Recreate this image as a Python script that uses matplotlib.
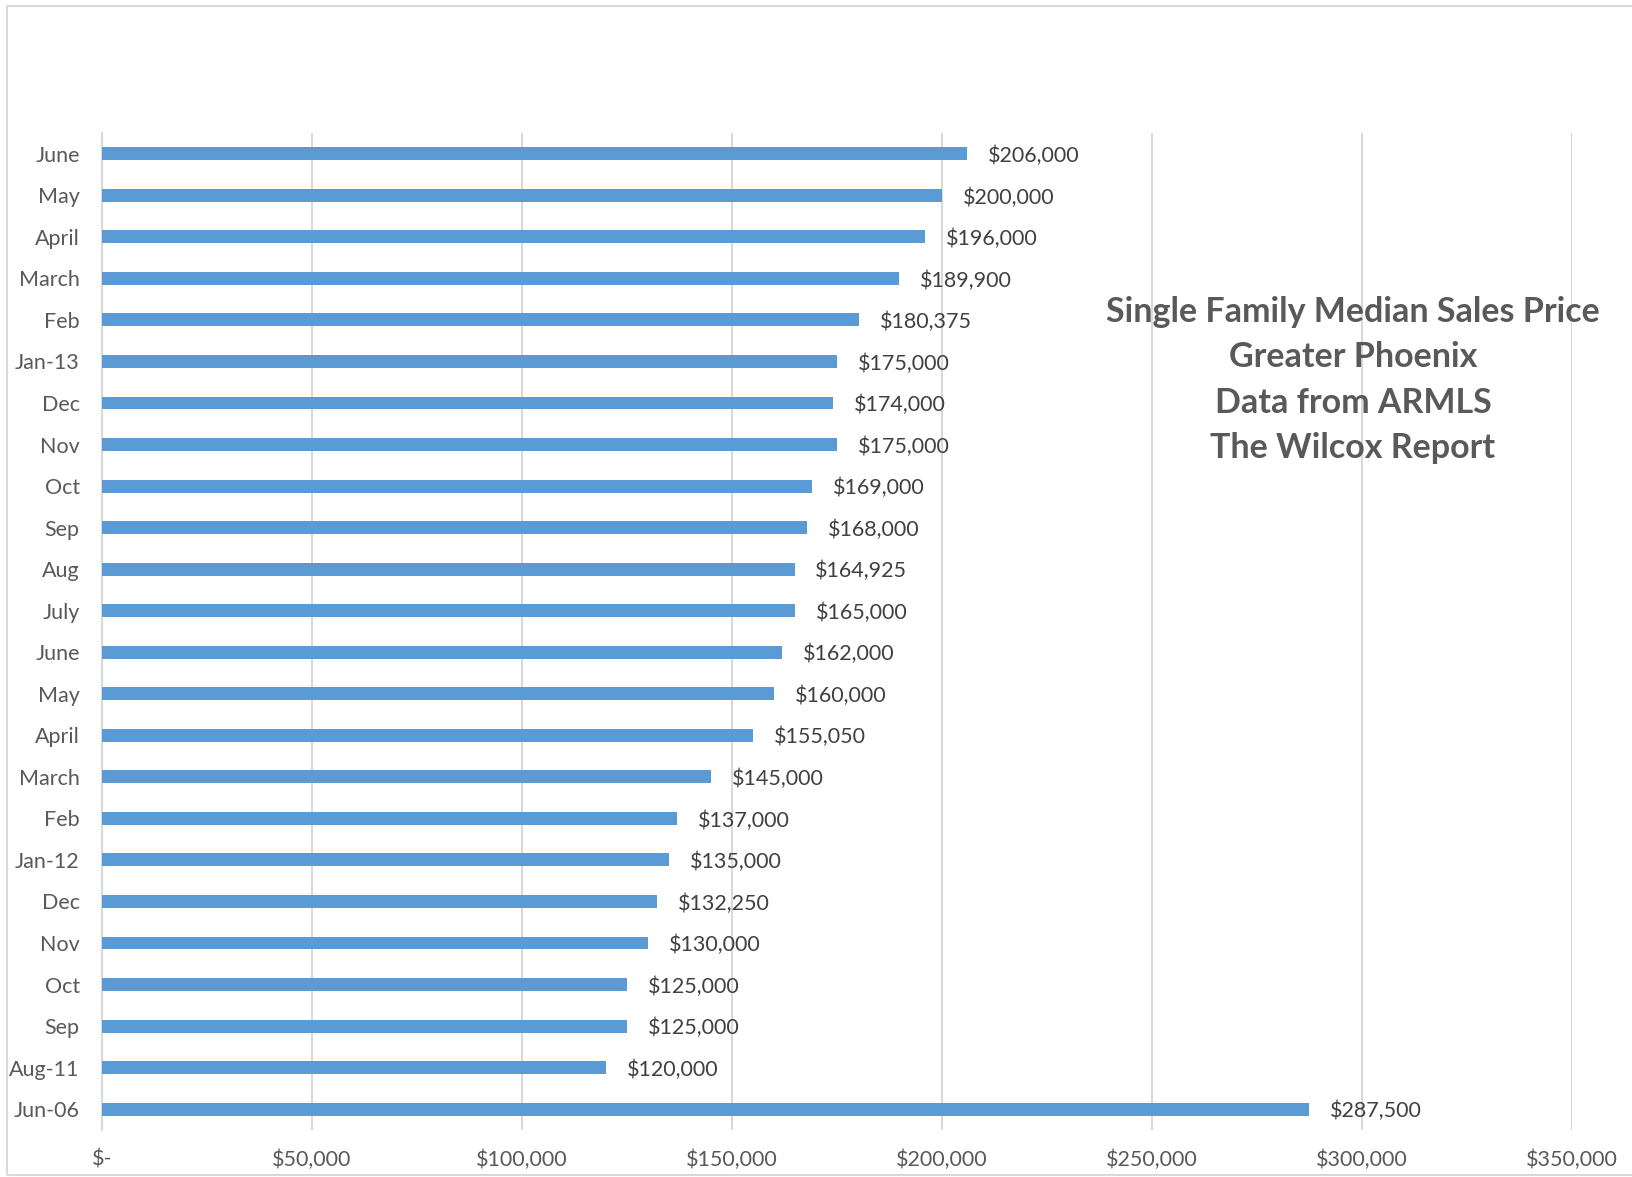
import numpy as np
import matplotlib.pyplot as plt
from matplotlib.patches import Rectangle

# months listed bottom to top, as the bars stack upward
months = ['Jun-06', 'Aug-11', 'Sep', 'Oct', 'Nov', 'Dec', 'Jan-12', 'Feb', 'March',
          'April', 'May', 'June', 'July', 'Aug', 'Sep', 'Oct', 'Nov', 'Dec', 'Jan-13',
          'Feb', 'March', 'April', 'May', 'June']
prices = [287500, 120000, 125000, 125000, 130000, 132250, 135000, 137000, 145000,
          155050, 160000, 162000, 165000, 164925, 168000, 169000, 175000, 174000, 175000,
          180375, 189900, 196000, 200000, 206000]
xticks = [0, 50000, 100000, 150000, 200000, 250000, 300000, 350000]
xlabels = ['$-', '$50,000', '$100,000', '$150,000', '$200,000', '$250,000', '$300,000', '$350,000']
title_lines = ['Single Family Median Sales Price', 'Greater Phoenix',
               'Data from ARMLS', 'The Wilcox Report']

plt.rcParams['font.family'] = ['Lato', 'DejaVu Sans']
grey = '#595959'

fig = plt.figure(figsize=(16.32, 11.77), dpi=100)
ax = fig.add_axes([0.0625, 0.040, 0.9005, 0.847])

y = np.arange(len(months))
ax.barh(y, prices, height=0.31, color='#5B9BD5', zorder=3)
for yi, p in zip(y, prices):
    ax.annotate(f'${p:,}', (p, yi), xytext=(15, -1.5), textcoords='offset points',
                va='center', ha='left', fontsize=15.5, color='#404040')

ax.set_xlim(0, 350000)
ax.set_ylim(-0.5, len(months) - 0.5)
ax.set_xticks(xticks)
ax.set_xticklabels(xlabels, fontsize=15.5, color=grey)
ax.set_yticks(y)
ax.set_yticklabels(months, fontsize=15.5, color=grey)
ax.tick_params(length=0)
ax.tick_params(axis='x', pad=14)
ax.tick_params(axis='y', pad=16)
ax.grid(axis='x', color='#D9D9D9', linewidth=1.5, zorder=0)
for s in ['top', 'right', 'bottom']:
    ax.spines[s].set_visible(False)
ax.spines['left'].set_color('#D9D9D9')
ax.spines['left'].set_linewidth(1.5)

for i, line in enumerate(title_lines):
    fig.text(0.829, 0.735 - i * 0.0386, line, ha='center', va='center',
             fontsize=24.5, fontweight='bold', color=grey)

# light frame around the chart area
fig.patches.append(Rectangle((0.0045, 0.002), 1.2, 0.993, transform=fig.transFigure,
                             fill=False, edgecolor='#D9D9D9', linewidth=1.5))

fig.savefig('out.png', dpi=100)
